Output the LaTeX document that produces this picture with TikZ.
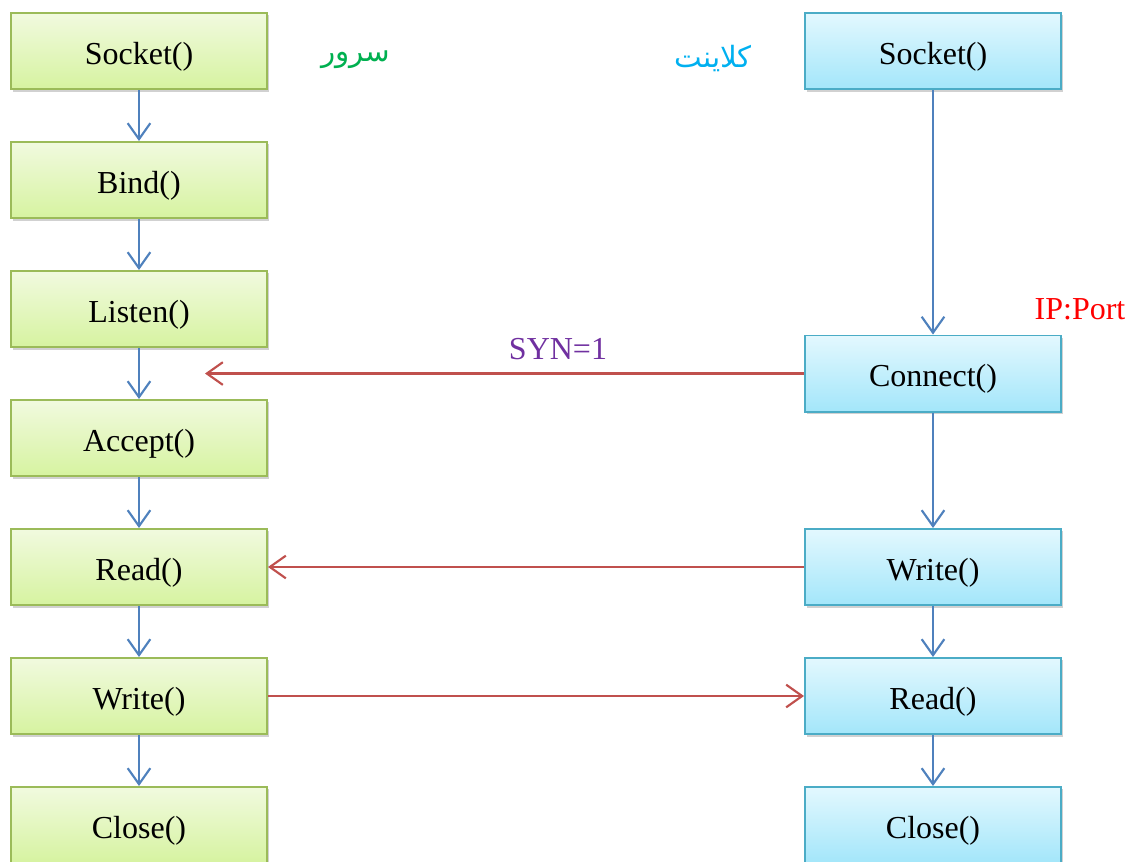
\documentclass[tikz,border=0pt]{standalone}
\usepackage{fontspec}
\setmainfont{Liberation Serif}
\newfontfamily\arabicfont[Script=Arabic]{DejaVu Sans}
\TeXXeTstate=1
\usetikzlibrary{positioning, arrows.meta, shadows}
\definecolor{srvtop}{HTML}{F1FADF}
\definecolor{srvbot}{HTML}{D6F3A0}
\definecolor{srvline}{HTML}{9BBB59}
\definecolor{clitop}{HTML}{E3F8FE}
\definecolor{clibot}{HTML}{A3E6FA}
\definecolor{cliline}{HTML}{4BACC6}
\definecolor{flowblue}{HTML}{4F81BD}
\definecolor{sigred}{HTML}{C0504D}
\definecolor{srvgreen}{HTML}{00B050}
\definecolor{clicyan}{HTML}{00B0F0}
\definecolor{synpurple}{HTML}{7030A0}
\tikzset{
  socketflow/.style={
	x=0.75pt, y=-0.75pt, % one unit is one pixel of the slide
	on grid, node distance=96.75pt, % centre to centre of two boxes
	font=\fontsize{24pt}{28pt}\selectfont,
	every edge/.style={draw=flowblue, line width=1.6pt, -{Straight Barb[length=12pt,width=17pt]}}, % the blue flow arrows
  },
  callbox/.style={
	line width=1.2pt, minimum width=192.3pt, minimum height=57.3pt, inner sep=0pt,
	text height=19.5pt, text depth=0pt, % puts the text a little lower, as on the slide
	drop shadow={shadow xshift=1.5pt, shadow yshift=-2pt, opacity=.3, fill=black!60},
  },
  srvbox/.style={callbox, draw=srvline, top color=srvtop, bottom color=srvbot},
  clibox/.style={callbox, draw=cliline, top color=clitop, bottom color=clibot},
  signal/.style={draw=sigred}, % messages between the two sides
  sidename/.style={font=\fontsize{22pt}{26pt}\arabicfont},
}

\begin{document}
\begin{tikzpicture}[socketflow]
\clip (0,0) rectangle (1134,861);
% server side
\node[srvbox] at (139,51) (ssock) {Socket()};
\node[srvbox, below=of ssock] (sbind) {Bind()};
\node[srvbox, below=of sbind] (slisten) {Listen()};
\node[srvbox, below=of slisten] (saccept) {Accept()};
\node[srvbox, below=of saccept] (sread) {Read()};
\node[srvbox, below=of sread] (swrite) {Write()};
\node[srvbox, below=of swrite] (sclose) {Close()};
% client side
\node[clibox, right=595.5pt of ssock] (csock) {Socket()};
\node[clibox, below=241.9pt of csock] (cconn) {Connect()};
\node[clibox, right=595.5pt of sread] (cwrite) {Write()};
\node[clibox, right=595.5pt of swrite] (cread) {Read()};
\node[clibox, right=595.5pt of sclose] (cclose) {Close()};
% labels
\node[sidename, text=srvgreen] at (356,60) (srvname) {\beginR سرور\endR};
\node[sidename, text=clicyan] at (713,59) (cliname) {\beginR کلاینت\endR};
\node[text=red] at (1080,309) (ipport) {IP:Port};
\node[text=synpurple] at (558,349) (synlbl) {SYN=1};
\coordinate (synend) at (205,375);
\draw   (ssock) edge (sbind)
	(sbind) edge (slisten)
	(slisten) edge (saccept)
	(saccept) edge (sread)
	(sread) edge (swrite)
	(swrite) edge (sclose)
	(csock) edge (cconn)
	(cconn) edge (cwrite)
	(cwrite) edge (cread)
	(cread) edge (cclose)
	(cconn) edge[signal] (cconn -| synend)
	(cwrite) edge[signal] (sread)
	(swrite) edge[signal] (cread)
;
\end{tikzpicture}
\end{document}
